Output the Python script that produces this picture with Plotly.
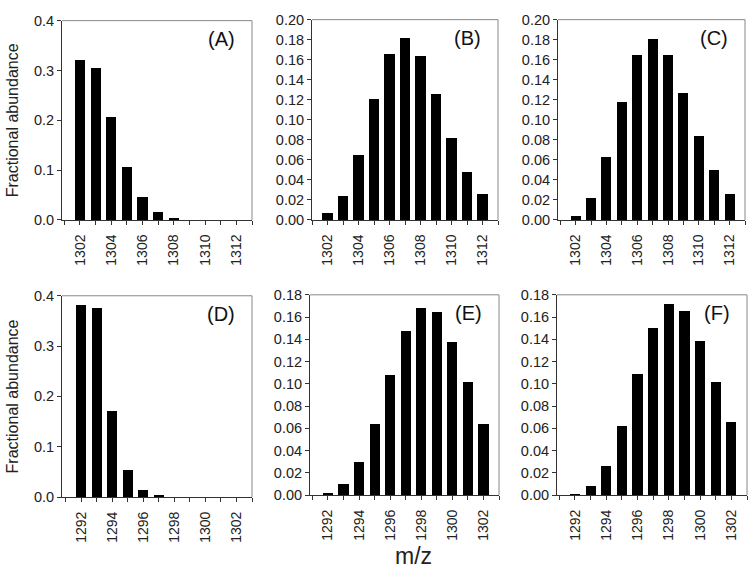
import plotly.graph_objects as go

mz_top = [1302, 1303, 1304, 1305, 1306, 1307, 1308, 1309, 1310, 1311, 1312]
mz_bot = [1292, 1293, 1294, 1295, 1296, 1297, 1298, 1299, 1300, 1301, 1302]

vals_A = [0.321, 0.306, 0.208, 0.106, 0.047, 0.016, 0.004, 0.0004, 0.0, 0.0, 0.0]
vals_B = [0.007, 0.024, 0.065, 0.121, 0.166, 0.182, 0.164, 0.126, 0.082, 0.048, 0.026]
vals_C = [0.004, 0.022, 0.063, 0.118, 0.165, 0.181, 0.165, 0.127, 0.084, 0.050, 0.026]
vals_D = [0.383, 0.376, 0.172, 0.054, 0.014, 0.004, 0.0004, 0.0, 0.0, 0.0, 0.0]
vals_E = [0.0023, 0.0105, 0.030, 0.064, 0.108, 0.148, 0.168, 0.165, 0.138, 0.102, 0.064]
vals_F = [0.0006, 0.008, 0.026, 0.062, 0.109, 0.150, 0.172, 0.166, 0.139, 0.102, 0.066]

labels = ["(A)", "(B)", "(C)", "(D)", "(E)", "(F)"]

W, H = 750, 576
# panels: (left, right, top, bottom) in pixels
boxes = [
    (62, 252, 13, 218),
    (312, 498, 12, 218),
    (558, 745, 12, 218),
    (62, 252, 296, 503),
    (310, 499, 295, 501),
    (557, 747, 295, 501),
]
panels = [
    (mz_top, vals_A, [1300.85, 1313], 0.4, 0.1, ".1f"),
    (mz_top, vals_B, [1301.0, 1313], 0.20, 0.02, ".2f"),
    (mz_top, vals_C, [1300.85, 1313], 0.20, 0.02, ".2f"),
    (mz_bot, vals_D, [1290.75, 1303], 0.4, 0.1, ".1f"),
    (mz_bot, vals_E, [1290.85, 1303], 0.18, 0.02, ".2f"),
    (mz_bot, vals_F, [1290.85, 1303], 0.18, 0.02, ".2f"),
]

fig = go.Figure()
font = "Liberation Sans, Arial, sans-serif"
annotations = []
shapes = []
for i, ((xs, ys, xr, ymax, ydt, yfmt), (l, r, t, b), lab) in enumerate(zip(panels, boxes, labels)):
    n = "" if i == 0 else str(i + 1)
    xa = "x" + n
    ya = "y" + n
    fig.add_trace(go.Bar(x=xs, y=ys, width=0.65, marker=dict(color="black", line=dict(width=0)),
                         xaxis=xa, yaxis=ya, showlegend=False))
    xd = [l / W, r / W]
    yd = [1 - b / H, 1 - t / H]
    fig.layout["xaxis" + n] = dict(
        domain=xd, anchor=ya, range=xr, tick0=xs[0], dtick=2, tickangle=-90,
        ticks="outside", ticklen=4, tickcolor="#333", showline=True, linecolor="#333",
        linewidth=1, showgrid=False, zeroline=False,
        tickfont=dict(family=font, size=14, color="#222"),
        minor=dict(dtick=1, tick0=xs[0], ticks="outside", ticklen=4, tickcolor="#333", showgrid=False),
        ticklabelstandoff=4,
    )
    fig.layout["yaxis" + n] = dict(
        domain=yd, anchor=xa, range=[0, ymax], dtick=ydt, tickformat=yfmt,
        ticks="outside", ticklen=4, tickcolor="#333", showline=True, linecolor="#333",
        linewidth=1, showgrid=False, zeroline=False,
        tickfont=dict(family=font, size=14.5, color="#222"),
    )
    # top and right frame lines
    shapes.append(dict(type="line", xref="paper", yref="paper", x0=xd[0], x1=xd[1], y0=yd[1], y1=yd[1],
                       line=dict(color="#888", width=1)))
    shapes.append(dict(type="line", xref="paper", yref="paper", x0=xd[1], x1=xd[1], y0=yd[0], y1=yd[1],
                       line=dict(color="#888", width=1)))
    annotations.append(dict(text=lab, xref="paper", yref="paper", x=(r - 15) / W, y=1 - (t + 19) / H,
                            xanchor="right", yanchor="middle", showarrow=False,
                            font=dict(family=font, size=20, color="#111")))

for (t, b) in [(13, 218), (296, 503)]:
    annotations.append(dict(text="Fractional abundance", xref="paper", yref="paper",
                            x=12 / W, y=1 - (t + b) / 2 / H, xanchor="center", yanchor="middle",
                            textangle=-90, showarrow=False, font=dict(family=font, size=16, color="#222")))

annotations.append(dict(text="m/z", xref="paper", yref="paper", x=413 / W, y=1 - 564 / H,
                        xanchor="center", yanchor="middle", showarrow=False,
                        font=dict(family=font, size=23, color="#222")))

fig.update_layout(width=W, height=H, margin=dict(l=0, r=0, t=0, b=0),
                  paper_bgcolor="white", plot_bgcolor="white",
                  annotations=annotations, shapes=shapes, bargap=0)
fig.write_html("out.html", config={"displayModeBar": False},
               post_script="document.body.style.margin='0';document.body.style.padding='0';")
